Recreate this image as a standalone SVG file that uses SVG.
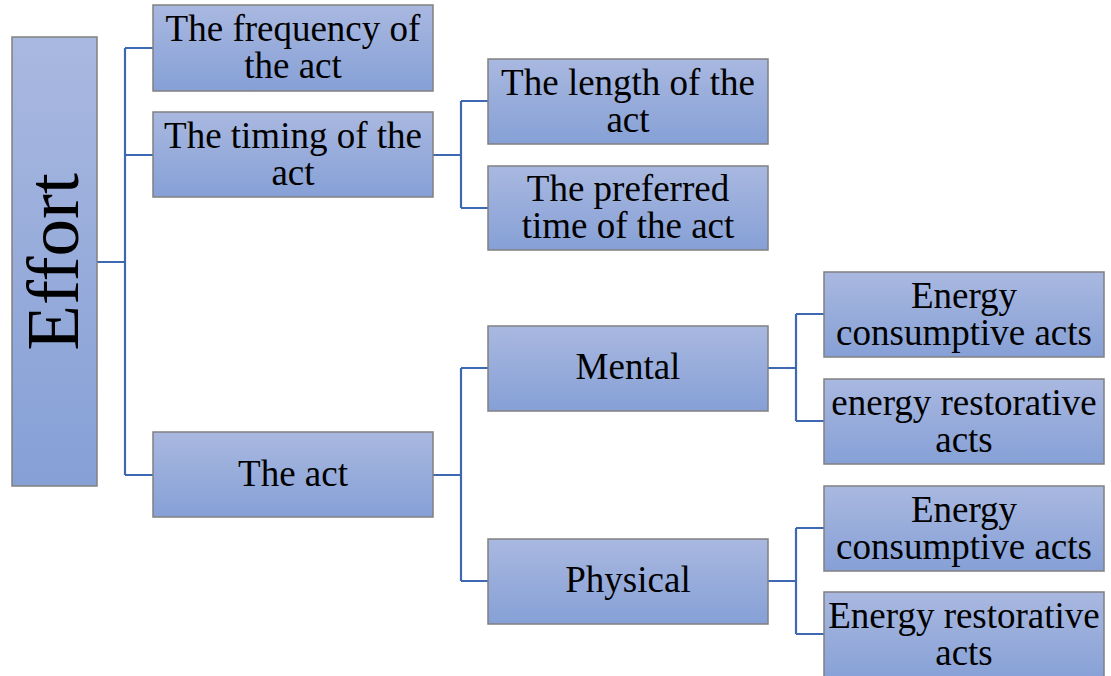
<svg xmlns="http://www.w3.org/2000/svg" width="1111" height="676" viewBox="0 0 1111 676">
<defs>
<linearGradient id="g" x1="0" y1="0" x2="0" y2="1">
<stop offset="0" stop-color="#a9b8e0"/>
<stop offset="1" stop-color="#86a0d6"/>
</linearGradient>
</defs>
<style>
.box{fill:url(#g);stroke:#808080;stroke-width:1.5}
.t{font-family:"Liberation Serif","Times New Roman",serif;font-size:37px;fill:#000;text-anchor:middle}
.c{fill:none;stroke:#3f68b2;stroke-width:2.2}
</style>
<rect width="1111" height="676" fill="#fff"/>
<g id="connectors">
<path class="c" d="M97 262H125M125 48V475M125 48H153M125 155H153M125 475H153"/>
<path class="c" d="M433 155H461M461 101V208M461 101H488M461 208H488"/>
<path class="c" d="M433 475H461M461 368V581M461 368H488M461 581H488"/>
<path class="c" d="M768 368H796M796 314V421M796 314H824M796 421H824"/>
<path class="c" d="M768 581H796M796 528V634M796 528H824M796 634H824"/>
</g>
<g id="effort"><rect class="box" x="12" y="37" width="85" height="449"/><text class="t" style="font-size:75px" transform="translate(78,262) rotate(-90)">Effort</text></g>
<g id="frequency"><rect class="box" x="153" y="5" width="280" height="86"/><text class="t" x="293" y="41">The frequency of</text><text class="t" x="293" y="78">the act</text></g>
<g id="timing"><rect class="box" x="153" y="112" width="280" height="85"/><text class="t" x="293" y="148">The timing of the</text><text class="t" x="293" y="185">act</text></g>
<g id="act"><rect class="box" x="153" y="432" width="280" height="85"/><text class="t" x="293" y="486">The act</text></g>
<g id="length"><rect class="box" x="488" y="59" width="280" height="85"/><text class="t" x="628" y="95">The length of the</text><text class="t" x="628" y="132">act</text></g>
<g id="preferred"><rect class="box" x="488" y="166" width="280" height="84"/><text class="t" x="628" y="201">The preferred</text><text class="t" x="628" y="238">time of the act</text></g>
<g id="mental"><rect class="box" x="488" y="326" width="280" height="85"/><text class="t" x="628" y="379">Mental</text></g>
<g id="physical"><rect class="box" x="488" y="539" width="280" height="85"/><text class="t" x="628" y="592">Physical</text></g>
<g id="cons1"><rect class="box" x="824" y="272" width="280" height="85"/><text class="t" x="964" y="308">Energy</text><text class="t" x="964" y="345">consumptive acts</text></g>
<g id="rest1"><rect class="box" x="824" y="379" width="280" height="85"/><text class="t" x="964" y="415">energy restorative</text><text class="t" x="964" y="452">acts</text></g>
<g id="cons2"><rect class="box" x="824" y="486" width="280" height="85"/><text class="t" x="964" y="522">Energy</text><text class="t" x="964" y="559">consumptive acts</text></g>
<g id="rest2"><rect class="box" x="824" y="592" width="280" height="90"/><text class="t" x="964" y="628">Energy restorative</text><text class="t" x="964" y="665">acts</text></g>
</svg>
